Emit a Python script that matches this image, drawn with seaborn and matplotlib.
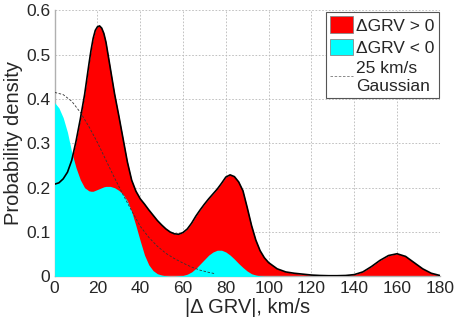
import numpy as np
import pandas as pd
import matplotlib
matplotlib.use("Agg")
import matplotlib.pyplot as plt
import seaborn as sns
from matplotlib.patches import Patch
from matplotlib.lines import Line2D

sns.set_theme(style="white")
plt.rcParams['font.family'] = ['Liberation Sans', 'DejaVu Sans']

# |dGRV| grid (km/s)
grv = [0, 2, 4, 6, 8, 10, 12, 14, 16, 17, 18, 19, 20, 21, 22, 23, 24, 26, 28, 30, 32, 34, 36, 38,
       40, 42, 44, 46, 48, 50, 52, 54, 56, 58, 60, 62, 64, 66, 68, 70, 72, 74, 76, 78,
       80, 82, 84, 86, 88, 90, 92, 94, 96, 98, 100, 104, 108, 112, 116, 120, 124, 128,
       132, 136, 140, 144, 148, 152, 156, 160, 164, 168, 172, 176, 180]

# density for dGRV > 0
dens_pos = [0.208, 0.211, 0.220, 0.235, 0.262, 0.305, 0.355, 0.410, 0.478, 0.510, 0.537,
            0.555, 0.563, 0.565, 0.560, 0.548, 0.528, 0.470, 0.412, 0.362, 0.310, 0.258,
            0.217, 0.192, 0.175, 0.163,
            0.150, 0.138, 0.126, 0.116, 0.107, 0.100, 0.096, 0.095, 0.099, 0.107, 0.120,
            0.136, 0.150, 0.163, 0.175, 0.186, 0.197, 0.210, 0.224, 0.229, 0.225, 0.213,
            0.193, 0.155, 0.115, 0.082, 0.058, 0.042, 0.031, 0.017, 0.010, 0.007, 0.005,
            0.003, 0.002, 0.0015, 0.0015, 0.002, 0.004, 0.010, 0.022, 0.036, 0.047, 0.051,
            0.045, 0.031, 0.017, 0.007, 0.002]

# density for dGRV < 0
dens_neg = [0.392, 0.380, 0.358, 0.325, 0.280, 0.245, 0.218, 0.200, 0.193, 0.192, 0.192,
            0.194, 0.196, 0.198, 0.200, 0.202, 0.203, 0.203, 0.200, 0.194, 0.185, 0.170,
            0.146, 0.114, 0.080, 0.048,
            0.026, 0.013, 0.006, 0.003, 0.001, 0.0, 0.0, 0.001, 0.002, 0.005, 0.010,
            0.018, 0.028, 0.038, 0.048, 0.055, 0.059, 0.059, 0.055, 0.048, 0.039, 0.029,
            0.020, 0.012, 0.006, 0.003, 0.001, 0.0, 0.0, 0.0, 0.0, 0.0, 0.0,
            0.0, 0.0, 0.0, 0.0, 0.0, 0.0, 0.0, 0.0, 0.0, 0.0, 0.0,
            0.0, 0.0, 0.0, 0.0, 0.0]

# 25 km/s Gaussian reference
gauss_x = [0, 4, 8, 12, 16, 20, 24, 28, 32, 36, 40, 44, 48, 52, 56, 60, 64, 68, 72, 75]
gauss_y = [0.415, 0.410, 0.395, 0.370, 0.338, 0.302, 0.262, 0.222, 0.184, 0.148, 0.113,
           0.088, 0.068, 0.052, 0.040, 0.030, 0.021, 0.014, 0.009, 0.006]

labels = ["\u0394GRV > 0", "\u0394GRV < 0", "25 km/s\nGaussian"]
xticks = [0, 20, 40, 60, 80, 100, 120, 140, 160, 180]
yticks = [0, 0.1, 0.2, 0.3, 0.4, 0.5, 0.6]

df = pd.DataFrame({"grv": grv, "pos": dens_pos, "neg": dens_neg})
dg = pd.DataFrame({"x": gauss_x, "y": gauss_y})

fig = plt.figure(figsize=(4.63, 3.35), dpi=100)
ax = fig.add_axes([0.118, 0.175, 0.832, 0.794])

ax.fill_between(df["grv"], 0, df["pos"], color="#ff0000", lw=0, zorder=2)
ax.fill_between(df["grv"], 0, df["neg"], color="#00ffff", lw=0, zorder=3)
sns.lineplot(data=df, x="grv", y="pos", color="black", lw=1.2, ax=ax, zorder=4,
             sort=False)
sns.lineplot(data=dg, x="x", y="y", color="#333333", lw=0.6, ax=ax, zorder=5,
             linestyle=(0, (3, 2)), sort=False)

ax.set_xlim(0, 180)
ax.set_ylim(0, 0.6)
ax.set_xticks(xticks)
ax.set_yticks(yticks)
ax.set_xticklabels([str(t) for t in xticks], fontsize=12.5)
ax.set_yticklabels(["0"] + [f"{t:.1f}" for t in yticks[1:]], fontsize=12.5)
ax.tick_params(length=0, pad=3)
ax.set_xlabel("|\u0394 GRV|, km/s", fontsize=14.5, labelpad=2)
ax.set_ylabel("Probability density", fontsize=14.5, labelpad=2)

ax.grid(True, color="#b8b8b8", linestyle=(0, (2, 2)), lw=0.6, zorder=0)
ax.set_axisbelow(True)
for s in ["top", "right"]:
    ax.spines[s].set_visible(False)
for s in ["left", "bottom"]:
    ax.spines[s].set_color("#b0b0b0")
    ax.spines[s].set_linewidth(1.0)

handles = [Patch(facecolor="#ff0000", edgecolor="#888888", lw=0.6),
           Patch(facecolor="#00ffff", edgecolor="#888888", lw=0.6),
           Line2D([0], [0], color="#777777", lw=0.6, linestyle=(0, (3, 2)))]
leg = ax.legend(handles, labels, loc="upper right", bbox_to_anchor=(0.997, 0.994),
                fontsize=12.5, frameon=True, fancybox=False, framealpha=1,
                edgecolor="#555555", handlelength=1.3, handleheight=1.1,
                handletextpad=0.2, labelspacing=0.3, borderpad=0.25,
                borderaxespad=0)
leg.get_frame().set_linewidth(0.8)
leg.set_zorder(10)

fig.savefig("out.png", dpi=100)
